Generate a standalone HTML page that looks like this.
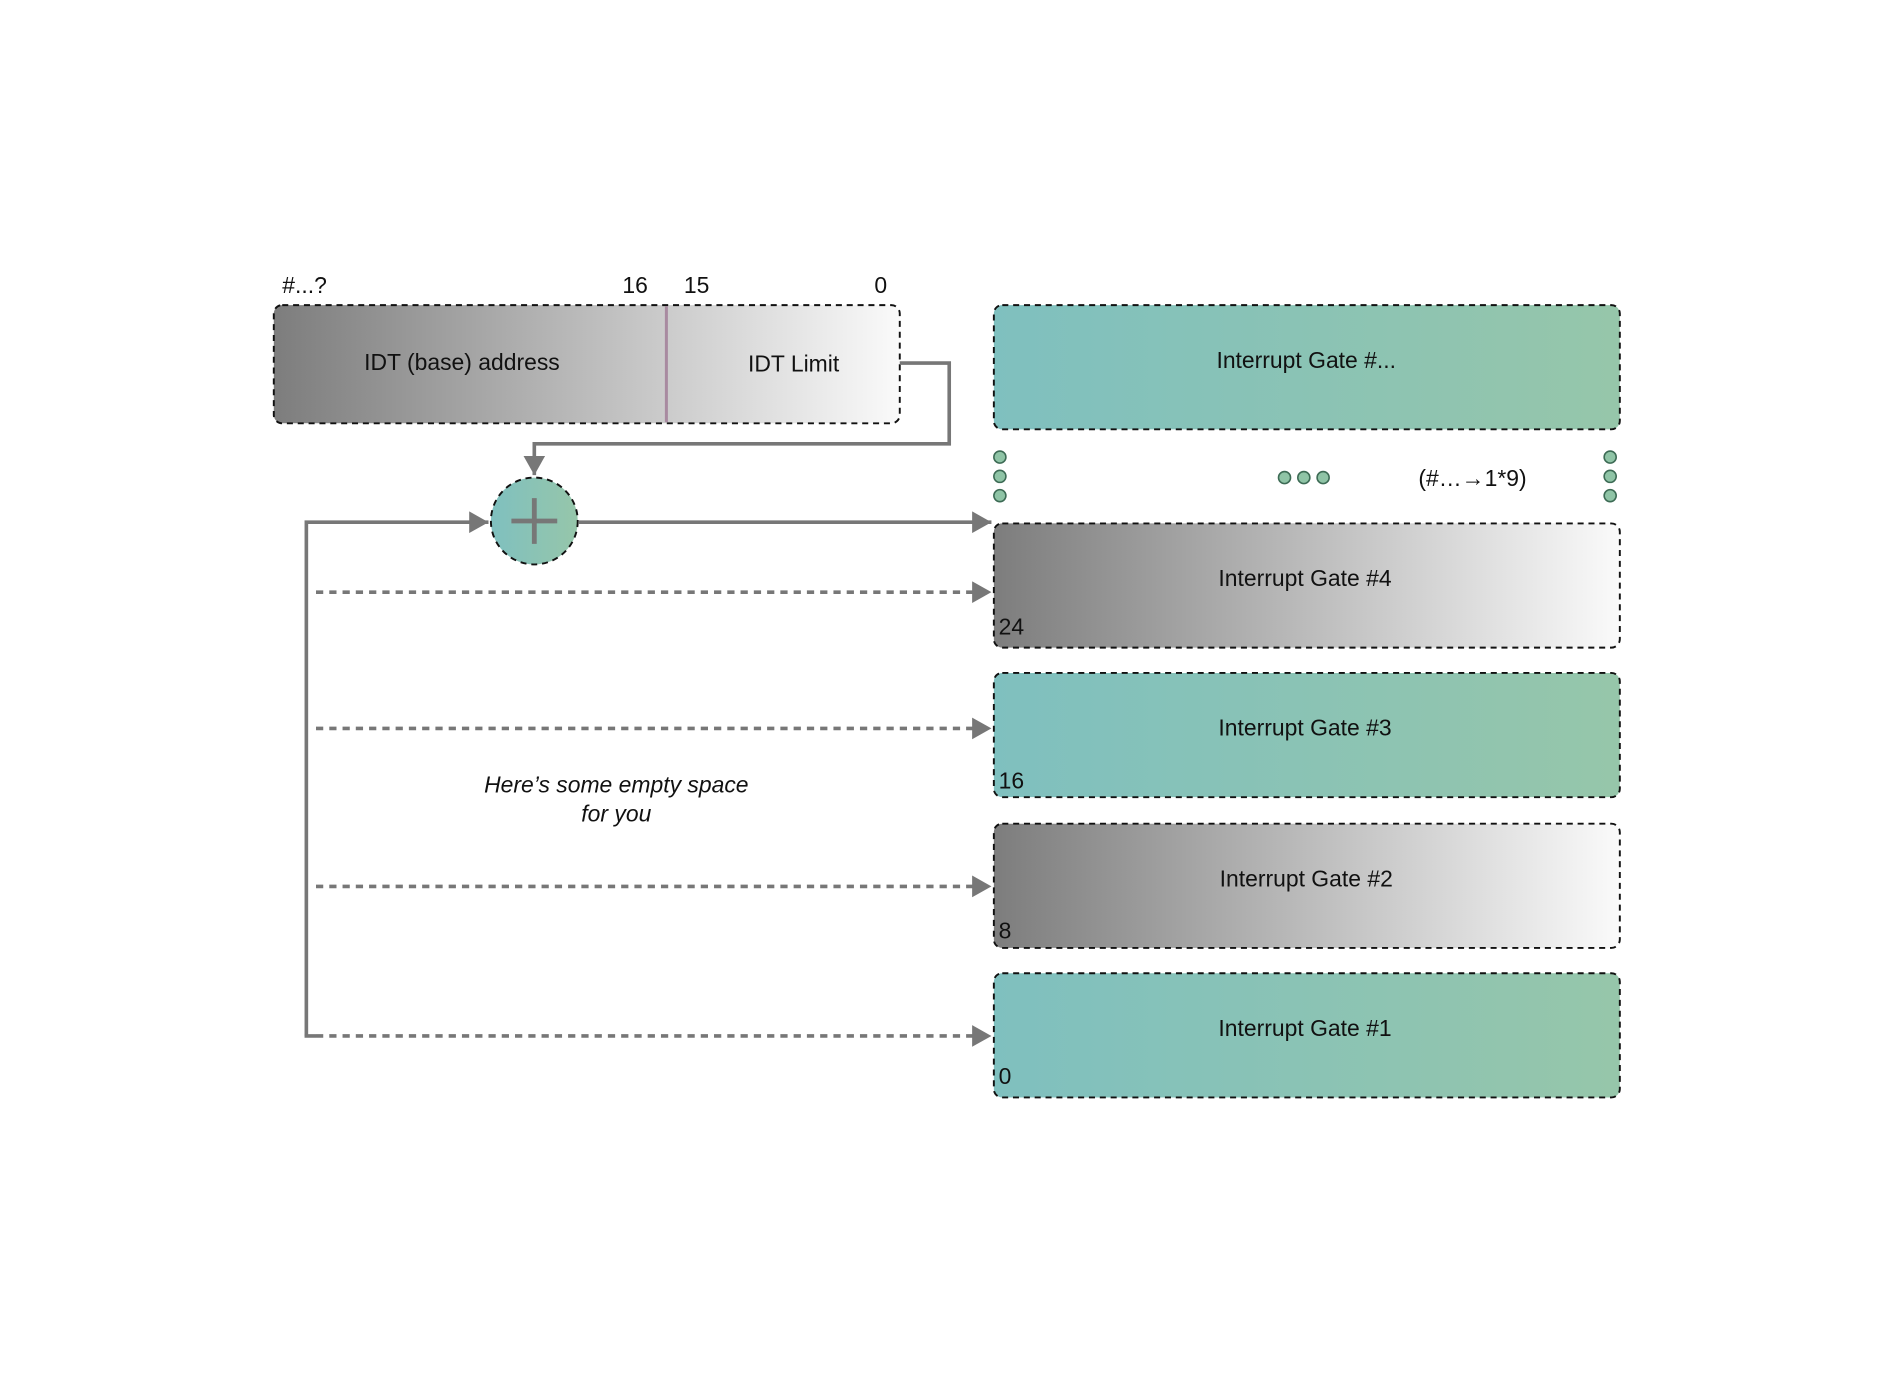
<!DOCTYPE html>
<html><head><meta charset="utf-8"><style>html,body{margin:0;padding:0;background:#fff;}svg{display:block}</style></head>
<body>
<svg width="1890" height="1374" viewBox="0 0 1567 1139.3" preserveAspectRatio="none" xmlns="http://www.w3.org/2000/svg" font-family="Liberation Sans, sans-serif">
<defs>
<linearGradient id="gr" x1="0" x2="1" y1="0" y2="0"><stop offset="0" stop-color="#7d7d7d"/><stop offset="1" stop-color="#fafafa"/></linearGradient>
<linearGradient id="gn" x1="0" x2="1" y1="0" y2="0"><stop offset="0" stop-color="#7fc0bf"/><stop offset="1" stop-color="#96c6aa"/></linearGradient>
<marker id="ar2" markerWidth="16" markerHeight="18" refX="16" refY="9" orient="auto" markerUnits="userSpaceOnUse" viewBox="0 0 16 18"><path d="M0,0 L16,9 L0,18 z" fill="#777"/></marker>
</defs>
<g font-size="19" fill="#111">
<text x="234" y="243">#...?</text>
<text x="516" y="243">16</text>
<text x="567" y="243">15</text>
<text x="725" y="243">0</text>
</g>
<rect x="227" y="253" width="519" height="98" rx="7" fill="url(#gr)" stroke="#111" stroke-width="1.6" stroke-dasharray="5,4"/>
<line x1="552.5" y1="254" x2="552.5" y2="350" stroke="#a88aa0" stroke-width="2.5"/>
<text x="383" y="307" font-size="19" text-anchor="middle" fill="#111">IDT (base) address</text>
<text x="658" y="308" font-size="19" text-anchor="middle" fill="#111">IDT Limit</text>
<path d="M746,301 H787 V368 H443 V394" fill="none" stroke="#777" stroke-width="3" marker-end="url(#ar2)"/>
<ellipse cx="443" cy="432" rx="36" ry="36" fill="url(#gn)" stroke="#111" stroke-width="1.6" stroke-dasharray="5,4"/>
<line x1="424" y1="432" x2="462" y2="432" stroke="#777" stroke-width="4"/>
<line x1="443" y1="413" x2="443" y2="451" stroke="#777" stroke-width="4"/>
<path d="M254,859 V433 H405" fill="none" stroke="#777" stroke-width="3" marker-end="url(#ar2)"/>
<path d="M480,433 H822" fill="none" stroke="#777" stroke-width="3" marker-end="url(#ar2)"/>
<g fill="none" stroke="#777" stroke-width="3" stroke-dasharray="6,5">
<path d="M262,491 H822" marker-end="url(#ar2)"/>
<path d="M262,604 H822" marker-end="url(#ar2)"/>
<path d="M262,735 H822" marker-end="url(#ar2)"/>
<path d="M262,859 H822" marker-end="url(#ar2)"/>
</g>
<line x1="252.5" y1="859" x2="262" y2="859" stroke="#777" stroke-width="3"/>
<g stroke="#111" stroke-width="1.6" stroke-dasharray="5,4">
<rect x="824" y="253" width="519" height="103" rx="7" fill="url(#gn)"/>
<rect x="824" y="434" width="519" height="103" rx="7" fill="url(#gr)"/>
<rect x="824" y="558" width="519" height="103" rx="7" fill="url(#gn)"/>
<rect x="824" y="683" width="519" height="103" rx="7" fill="url(#gr)"/>
<rect x="824" y="807" width="519" height="103" rx="7" fill="url(#gn)"/>
</g>
<g font-size="19" fill="#111" text-anchor="middle">
<text x="1083" y="305">Interrupt Gate #...</text>
<text x="1082" y="486">Interrupt Gate #4</text>
<text x="1082" y="610">Interrupt Gate #3</text>
<text x="1083" y="735">Interrupt Gate #2</text>
<text x="1082" y="859">Interrupt Gate #1</text>
</g>
<g font-size="19" fill="#111">
<text x="828" y="526">24</text>
<text x="828" y="654">16</text>
<text x="828" y="778">8</text>
<text x="828" y="899">0</text>
<text x="1176" y="403">(#…→1*9)</text>
</g>
<g fill="#8fc4a6" stroke="#3d6b55" stroke-width="1.3">
<circle cx="829" cy="379" r="5"/><circle cx="829" cy="395" r="5"/><circle cx="829" cy="411" r="5"/>
<circle cx="1335" cy="379" r="5"/><circle cx="1335" cy="395" r="5"/><circle cx="1335" cy="411" r="5"/>
<circle cx="1065" cy="396" r="5"/><circle cx="1081" cy="396" r="5"/><circle cx="1097" cy="396" r="5"/>
</g>
<g font-size="19" font-style="italic" fill="#111" text-anchor="middle">
<text x="511" y="657">Here’s some empty space</text>
<text x="511" y="681">for you</text>
</g>
</svg>
</body></html>
